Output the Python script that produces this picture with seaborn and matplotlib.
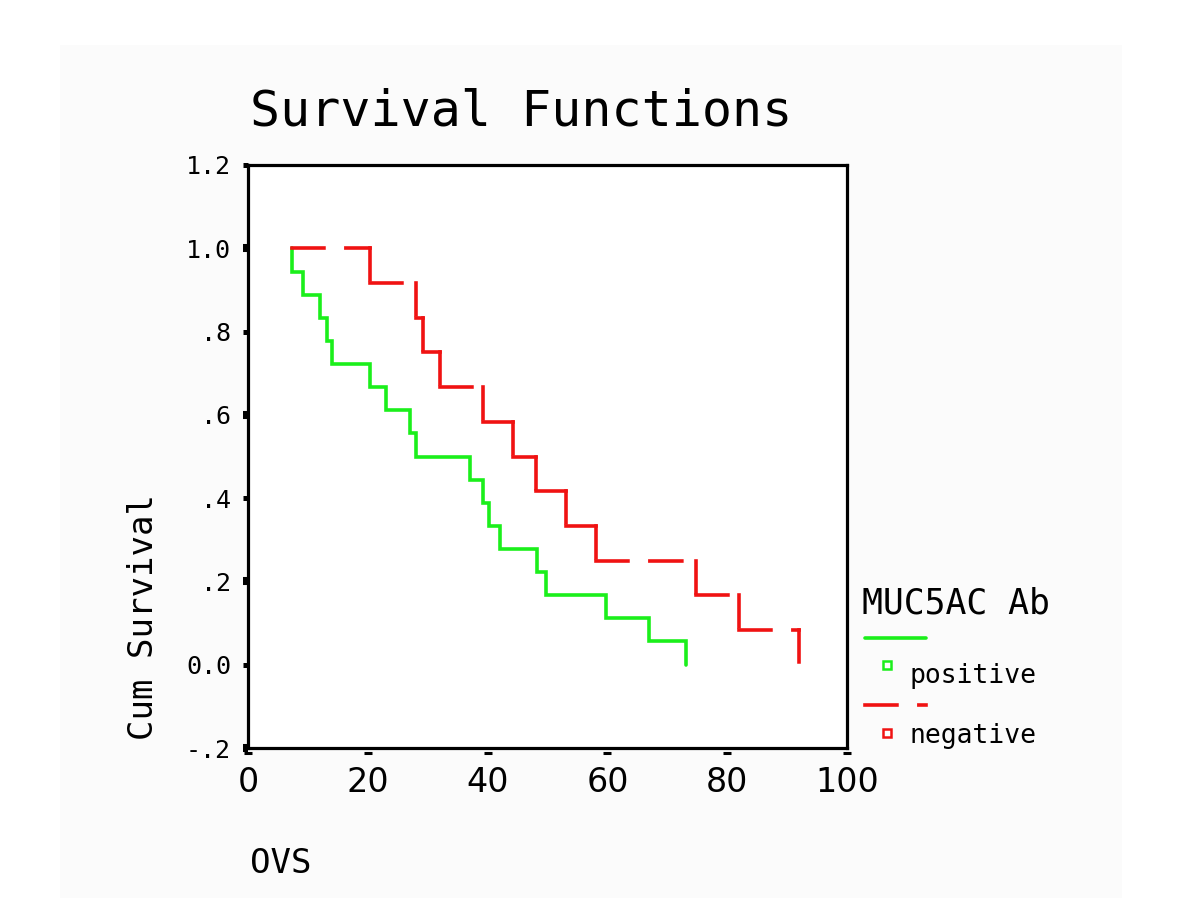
import numpy as np
import pandas as pd
import matplotlib
matplotlib.use("Agg")
import matplotlib.pyplot as plt
import seaborn as sns
from matplotlib.path import Path
from matplotlib.lines import Line2D
from matplotlib.patches import Rectangle

# ---------------- data ----------------
group_names = ["positive", "negative"]
positive_time = [7.4, 9.1, 12.0, 13.2, 14.1, 20.4, 23.0, 27.0, 28.0, 37.0,
                 39.2, 40.3, 42.0, 48.2, 49.7, 59.8, 67.0, 73.1]
positive_surv = [0.944, 0.889, 0.833, 0.778, 0.722, 0.667, 0.611, 0.556, 0.500,
                 0.444, 0.389, 0.333, 0.278, 0.222, 0.167, 0.111, 0.056, 0.0]
negative_time = [20.4, 28.0, 29.2, 32.1, 39.2, 44.2, 48.1, 53.1, 58.1, 74.8, 82.0, 92.0]
negative_surv = [0.917, 0.833, 0.750, 0.667, 0.583, 0.500, 0.417, 0.333, 0.250,
                 0.167, 0.083, 0.0]
x_ticks = [0, 20, 40, 60, 80, 100]
x_tick_labels = ["0", "20", "40", "60", "80", "100"]
y_ticks = [-0.2, 0.0, 0.2, 0.4, 0.6, 0.8, 1.0, 1.2]
y_tick_labels = ["-.2", "0.0", ".2", ".4", ".6", ".8", "1.0", "1.2"]

GREEN = "#1bef1b"
RED = "#f01212"
MONO = ["DejaVu Sans Mono", "DejaVu Sans"]

sns.set_theme(style="white")
plt.rcParams["font.family"] = MONO
plt.rcParams["lines.scale_dashes"] = False
plt.rcParams["text.color"] = "black"
plt.rcParams["axes.labelcolor"] = "black"
plt.rcParams["xtick.color"] = "black"
plt.rcParams["ytick.color"] = "black"

start_time = min(positive_time[0], negative_time[0])


def step_rows(name, times, surv, split_segments):
    xs, ys, prev = [start_time], [1.0], 1.0
    for t, s in zip(times, surv):
        xs += [t, t]
        ys += [prev, s]
        prev = s
    rows = []
    if not split_segments:
        for i, (x, y) in enumerate(zip(xs, ys)):
            rows.append(dict(group=name, seg=f"{name}", order=i, time=x, surv=y))
        return rows
    k = 0
    for i in range(len(xs) - 1):
        if xs[i] == xs[i + 1] and ys[i] == ys[i + 1]:
            continue
        rows.append(dict(group=name, seg=f"{name}{k}", order=0, time=xs[i], surv=ys[i]))
        rows.append(dict(group=name, seg=f"{name}{k}", order=1, time=xs[i + 1], surv=ys[i + 1]))
        k += 1
    return rows


df = pd.DataFrame(step_rows("positive", positive_time, positive_surv, False)
                  + step_rows("negative", negative_time, negative_surv, True))

fig = plt.figure(figsize=(12, 9.24), dpi=100)
fig.patches.append(Rectangle((60 / 1200, 1 - 898 / 924), (1122 - 60) / 1200, (898 - 45) / 924,
                             transform=fig.transFigure, facecolor="#fbfbfb",
                             edgecolor="none", zorder=-10))
ax = fig.add_axes([248 / 1200, 1 - 748 / 924, 599 / 1200, 583 / 924])
ax.set_facecolor("white")

DASH = (23, 15.8)
sns.lineplot(data=df, x="time", y="surv", hue="group", style="group", units="seg",
             estimator=None, sort=False,
             palette={"positive": GREEN, "negative": RED},
             dashes={"positive": "", "negative": DASH},
             linewidth=2.6, legend=False, ax=ax,
             dash_capstyle="projecting", solid_joinstyle="miter")

ax.set_xlim(0, 100)
ax.set_ylim(-0.2, 1.2)
for sp in ax.spines.values():
    sp.set_visible(True)
    sp.set_color("black")
    sp.set_linewidth(2.3)

# y ticks
ax.set_yticks(y_ticks)
ax.set_yticklabels(y_tick_labels)
ax.tick_params(axis="y", direction="out", length=3.6, width=3.6, pad=8.6,
               labelsize=18, colors="black", left=True)
for val, tk in zip(y_ticks, ax.yaxis.get_major_ticks()):
    if round(val * 10) in (-2, 2, 6, 10):
        tk.tick1line.set_markeredgewidth(5.8)

# x ticks: short bars just below the axis line
ax.set_xticks(x_ticks)
ax.set_xticklabels(x_tick_labels)
ax.tick_params(axis="x", direction="out", length=7.2, width=2.2, pad=5.8,
               labelsize=24, colors="black", bottom=True)
bar = Path([(-4, -5), (4, -5)], [Path.MOVETO, Path.LINETO])
for tk in ax.xaxis.get_major_ticks():
    tk.tick1line.set_marker(bar)
    tk.tick1line.set_markersize(7.2)
    tk.tick1line.set_markeredgewidth(2.2)
for lab in ax.get_xticklabels():
    lab.set_family(["DejaVu Sans"])

# axis titles
ax.set_xlabel("OVS", fontsize=24.5, loc="left")
ax.xaxis.label.set_va("baseline")
ax.xaxis.set_label_coords((250 - 248) / 599, (748 - 873) / 583)
ax.set_ylabel("Cum Survival", fontsize=24.5, loc="bottom")
ax.yaxis.set_label_coords((160 - 248) / 599, (748 - 740) / 583)

fig.text(250 / 1200, 1 - 125 / 924, "Survival Functions", fontsize=36,
         ha="left", va="baseline")

# legend (SPSS style)
fig.text(862 / 1200, 1 - 614 / 924, "MUC5AC Ab", fontsize=25, ha="left", va="baseline")
fy = lambda p: 1 - p / 924
fig.add_artist(Line2D([865 / 1200, 926 / 1200], [fy(638)] * 2, transform=fig.transFigure,
                      color=GREEN, lw=2.6))
fig.add_artist(Line2D([887 / 1200], [fy(665)], transform=fig.transFigure, marker="s",
                      ms=5.5, mfc="white", mec=GREEN, mew=1.8, lw=0))
fig.text(910 / 1200, fy(683), "positive", fontsize=19, ha="left", va="baseline")
leg_red = Line2D([865 / 1200, 926 / 1200], [fy(705)] * 2, transform=fig.transFigure,
                 color=RED, lw=2.6, dash_capstyle="projecting")
leg_red.set_dashes(DASH)
fig.add_artist(leg_red)
fig.add_artist(Line2D([887 / 1200], [fy(733)], transform=fig.transFigure, marker="s",
                      ms=5.5, mfc="white", mec=RED, mew=1.8, lw=0))
fig.text(910 / 1200, fy(743), "negative", fontsize=19, ha="left", va="baseline")

fig.savefig("out.png", dpi=100, facecolor="white")
